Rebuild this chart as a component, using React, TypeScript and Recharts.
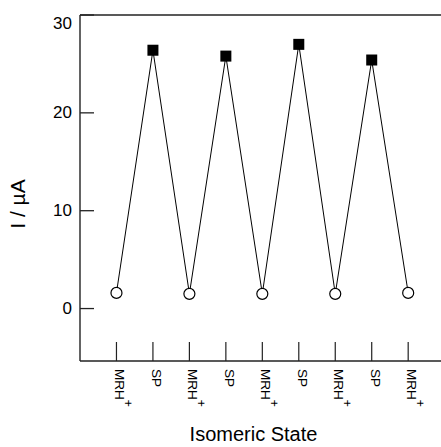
import React from 'react';
import { LineChart, Line, XAxis, YAxis, ReferenceLine } from 'recharts';

const states = ['MRH+', 'SP', 'MRH+', 'SP', 'MRH+', 'SP', 'MRH+', 'SP', 'MRH+'];
const currents = [1.6, 26.4, 1.5, 25.8, 1.5, 27.0, 1.5, 25.4, 1.6];
const yTicks = [0, 10, 20, 30];
const xTicks = [1, 2, 3, 4, 5, 6, 7, 8, 9];

const data = states.map((s, i) => ({ pos: xTicks[i], state: s, current: currents[i] }));

const FONT = '"Liberation Sans", Arial, Helvetica, sans-serif';
const AXIS = '#222';

const YTick = (props: any) => {
  const { x, y, payload } = props;
  const ax = x + 8;
  const top = payload.value === 30;
  return (
    <g>
      <line x1={ax} x2={ax + 14} y1={y} y2={y} stroke={AXIS} strokeWidth={1.3} />
      <text x={x} y={top ? y + 8 : y} textAnchor="end" dominantBaseline="central" fontSize={17} fontFamily={FONT} fill="#000">
        {payload.value}
      </text>
    </g>
  );
};

const XTick = (props: any) => {
  const { x, y, payload } = props;
  const ay = y - 8;
  const label = states[payload.value - 1] || '';
  const isMRH = label.startsWith('MRH');
  const tx = x - 1;
  const ty = ay + 8;
  return (
    <g>
      <line x1={x} x2={x} y1={ay} y2={ay - 19} stroke={AXIS} strokeWidth={1.2} />
      <text x={tx} y={ty} transform={`rotate(90, ${tx}, ${ty})`} textAnchor="start" fontSize={13.5} fontFamily={FONT} fill="#000">
        {isMRH ? 'MRH' : label}
        {isMRH ? <tspan dy={-9} fontSize={12}>+</tspan> : null}
      </text>
    </g>
  );
};

const Dot = (props: any) => {
  const { cx, cy, payload, index } = props;
  if (cx == null || cy == null) return null;
  if (payload.state === 'SP') {
    return <rect key={index} x={cx - 5.5} y={cy - 5.5} width={11} height={11} fill="#000" />;
  }
  return <circle key={index} cx={cx} cy={cy} r={5.5} fill="#fff" stroke="#000" strokeWidth={1.2} />;
};

export default function App() {
  return (
    <div style={{ position: 'absolute', left: 0, top: 0, background: '#fff' }}>
      <LineChart width={441} height={447} data={data} margin={{ top: 15, right: 0, bottom: 0, left: 0 }}>
        <XAxis
          dataKey="pos"
          type="number"
          domain={[0, 9.9]}
          ticks={xTicks}
          interval={0}
          height={86}
          axisLine={{ stroke: AXIS, strokeWidth: 1.4 }}
          tickLine={false}
          tick={<XTick />}
          label={(p: any) => (
            <text
              x={p.viewBox.x + p.viewBox.width / 2 - 7}
              y={441}
              textAnchor="middle"
              fontSize={20}
              fontFamily={FONT}
              fill="#000"
            >
              Isomeric State
            </text>
          )}
        />
        <YAxis
          type="number"
          domain={[-5.36, 30]}
          ticks={yTicks}
          width={80}
          allowDataOverflow
          axisLine={{ stroke: AXIS, strokeWidth: 1.4 }}
          tickLine={false}
          tick={<YTick />}
          label={() => (
            <text
              x={25}
              y={204}
              transform="rotate(-90, 25, 204)"
              textAnchor="middle"
              fontSize={21}
              fontFamily={FONT}
              fill="#000"
            >
              I / µA
            </text>
          )}
        />
        <ReferenceLine y={30} stroke={AXIS} strokeWidth={1.4} />
        <Line
          dataKey="current"
          stroke="#000"
          strokeWidth={1}
          dot={<Dot />}
          isAnimationActive={false}
        />
      </LineChart>
    </div>
  );
}
